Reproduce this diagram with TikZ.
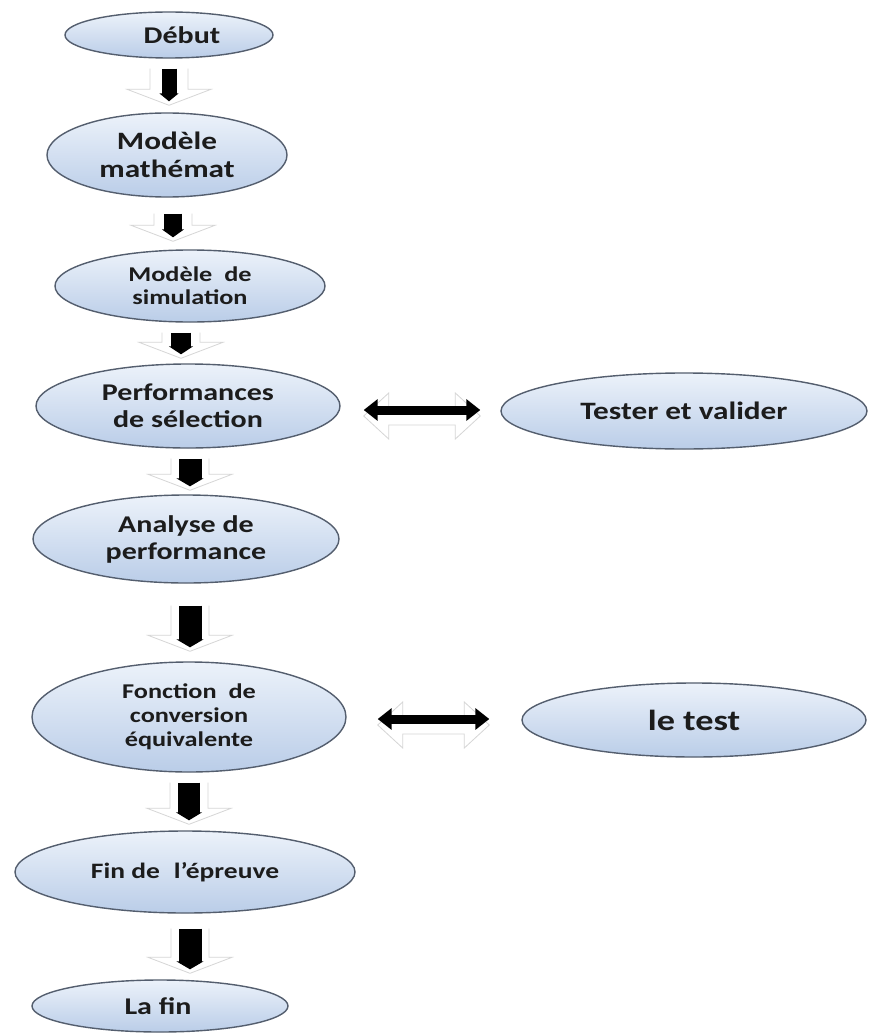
\documentclass[tikz,border=0pt]{standalone}
\usepackage{fontspec}
\newfontfamily\lbl{Carlito}[FakeStretch=1.25]
\usetikzlibrary{calc,arrows.meta,shapes.geometric}
\definecolor{edge}{RGB}{84,94,110}
\definecolor{ftop}{RGB}{236,242,250}
\definecolor{fbot}{RGB}{186,205,232}
\definecolor{ink}{RGB}{28,28,28}
\definecolor{ghostc}{RGB}{214,214,214}
\begin{document}
\begin{tikzpicture}[x=1pt,y=-1pt,
  oval/.style={ellipse, draw=edge, line width=1.4pt, top color=ftop, bottom color=fbot,
    inner sep=0pt, align=center, text=ink, font=\lbl\bfseries\fontsize{24}{27}\selectfont},
  lab/.style={inner sep=0pt, align=center, text=ink, font=\lbl\bfseries\fontsize{24}{27}\selectfont},
  blk/.style={draw=black, line width=#1, -{Triangle[width=4pt 1, length=8pt]}},
  ghost/.style={draw=ghostc, line width=0.8pt},
  dbl/.style={draw=black, line width=9pt, {Triangle[width=21pt,length=14pt]}-{Triangle[width=21pt,length=14pt]}}
]
\path[fill=white, use as bounding box] (0,0) rectangle (868,1035);

% nodes
\node[oval, minimum width=208, minimum height=46] (deb) at (169,35) {};
\node[lab] (debt) at (182,35) {Début};
\node[oval, minimum width=240, minimum height=84, font=\lbl\bfseries\fontsize{25}{28}\selectfont] (mod) at (167,155) {Modèle\\mathémat};
\node[oval, minimum width=270, minimum height=72, font=\lbl\bfseries\fontsize{21}{23}\selectfont] (sim) at (190,286) {Modèle~~de\\simulation};
\node[oval, minimum width=304, minimum height=84] (perf) at (188,406) {Performances\\de sélection};
\node[oval, minimum width=366, minimum height=76, font=\lbl\bfseries\fontsize{25}{28}\selectfont] (tst) at (684,411) {Tester et valider};
\node[oval, minimum width=306, minimum height=88] (ana) at (186,539) {Analyse de\\performance};
\node[oval, minimum width=314, minimum height=110, font=\lbl\bfseries\fontsize{21}{24}\selectfont] (fct) at (189,717) {Fonction~~de\\conversion\\équivalente};
\node[oval, minimum width=344, minimum height=74, font=\lbl\bfseries\fontsize{29}{32}\selectfont] (ltest) at (694,720) {le test};
\node[oval, minimum width=340, minimum height=82, font=\lbl\bfseries\fontsize{22}{25}\selectfont] (fin) at (185,872) {Fin de\hspace{14pt}l’épreuve};
\node[oval, minimum width=256, minimum height=52] (lafin) at (160,1006) {};
\node[lab] (lafint) at (158,1006) {La fin};

% arrow end points
\coordinate (a1s) at ([yshift=-10pt]deb.south);
\coordinate (a1e) at ([yshift=11pt]a1s |- mod.north);
\coordinate (a2s) at ([xshift=6pt,yshift=-16pt]mod.south);
\coordinate (a2e) at ([yshift=12pt]a2s |- sim.north);
\coordinate (a3s) at ([xshift=-9pt,yshift=-10pt]sim.south);
\coordinate (a3e) at ([yshift=9pt]a3s |- perf.north);
\coordinate (a4s) at ([xshift=2pt,yshift=-10pt]perf.south);
\coordinate (a4e) at ([yshift=8pt]a4s |- ana.north);
\coordinate (a5s) at ([xshift=4pt,yshift=-22pt]ana.south);
\coordinate (a5e) at ([yshift=14pt]a5s |- fct.north);
\coordinate (a6s) at ([yshift=-10pt]fct.south);
\coordinate (a6e) at ([yshift=10pt]a6s |- fin.north);
\coordinate (a7s) at ([xshift=5pt,yshift=-15pt]fin.south);
\coordinate (a7e) at ([yshift=10pt]a7s |- lafin.north);

\newcommand\ghostarrow[2]{%
  \draw[ghost] ($(#1)+(-19,0)$) -- ($(#2)+(-19,-12)$) -- ($(#2)+(-42,-12)$) -- ($(#2)+(0,4)$)
     -- ($(#2)+(42,-12)$) -- ($(#2)+(19,-12)$) -- ($(#1)+(19,0)$);}
\foreach \i in {1,...,7}{\ghostarrow{a\i s}{a\i e}}

\draw[blk=15pt] (a1s) -- (a1e);
\draw[blk=18pt] (a2s) -- (a2e);
\draw[blk=20pt] (a3s) -- (a3e);
\draw[blk=23pt] (a4s) -- (a4e);
\draw[blk=23pt] (a5s) -- (a5e);
\draw[blk=22pt] (a6s) -- (a6e);
\draw[blk=23pt] (a7s) -- (a7e);

% double arrows
\coordinate (d1s) at ([xshift=23pt,yshift=-4pt]perf.east);
\coordinate (d1e) at ([xshift=-20pt]d1s -| tst.west);
\coordinate (d2s) at ([xshift=31pt,yshift=-2pt]fct.east);
\coordinate (d2e) at ([xshift=-32pt]d2s -| ltest.west);
\newcommand\ghostdbl[2]{%
  \draw[ghost] ($(#1)+(0,6)$) -- ($(#1)+(25,-17)$) -- ($(#1)+(25,-3)$) -- ($(#2)+(-25,-3)$)
    -- ($(#2)+(-25,-17)$) -- ($(#2)+(0,6)$) -- ($(#2)+(-25,29)$) -- ($(#2)+(-25,15)$)
    -- ($(#1)+(25,15)$) -- ($(#1)+(25,29)$) -- cycle;}
\ghostdbl{d1s}{d1e}
\ghostdbl{d2s}{d2e}
\draw[dbl] (d1s) -- (d1e);
\draw[dbl] (d2s) -- (d2e);
\end{tikzpicture}
\end{document}
